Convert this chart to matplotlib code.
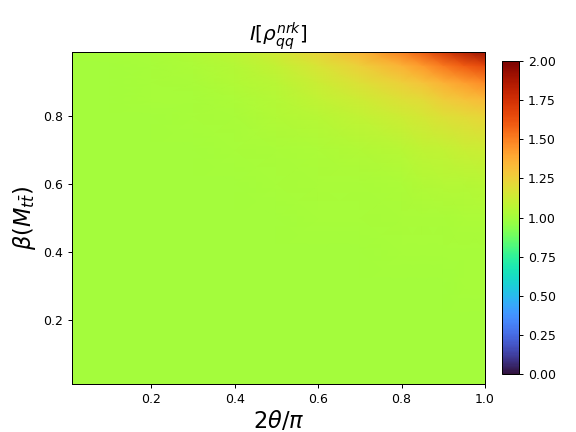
import numpy as np
import matplotlib
matplotlib.use('Agg')
import matplotlib.pyplot as plt

# grid positions (2theta/pi and beta) and values
theta_pts = [0.0, 0.1, 0.2, 0.3, 0.4, 0.5, 0.6, 0.7, 0.8, 0.85, 0.9, 0.95, 1.0]
beta_pts = [0.0, 0.1, 0.2, 0.3, 0.4, 0.5, 0.6, 0.7, 0.8, 0.85, 0.9, 0.95, 1.0]

values = [
    [1.00, 1.00, 1.00, 1.00, 1.00, 1.00, 1.00, 1.00, 1.00, 1.00, 1.00, 1.00, 1.00],
    [1.00, 1.00, 1.00, 1.00, 1.00, 1.00, 1.00, 1.00, 1.00, 1.00, 1.00, 1.00, 1.00],
    [1.00, 1.00, 1.00, 1.00, 1.00, 1.00, 1.00, 1.00, 1.00, 1.00, 1.00, 1.00, 1.00],
    [1.00, 1.00, 1.00, 1.00, 1.00, 1.00, 1.00, 1.00, 1.00, 1.00, 1.00, 1.01, 1.01],
    [1.00, 1.00, 1.00, 1.00, 1.00, 1.00, 1.00, 1.00, 1.01, 1.01, 1.01, 1.01, 1.01],
    [1.00, 1.00, 1.00, 1.00, 1.00, 1.00, 1.01, 1.01, 1.02, 1.02, 1.02, 1.03, 1.03],
    [1.00, 1.00, 1.00, 1.00, 1.00, 1.01, 1.02, 1.02, 1.03, 1.04, 1.05, 1.05, 1.06],
    [1.00, 1.00, 1.00, 1.00, 1.01, 1.02, 1.03, 1.04, 1.06, 1.08, 1.09, 1.11, 1.12],
    [1.00, 1.00, 1.00, 1.01, 1.02, 1.04, 1.06, 1.09, 1.13, 1.15, 1.18, 1.21, 1.23],
    [1.00, 1.00, 1.01, 1.01, 1.03, 1.05, 1.09, 1.13, 1.18, 1.21, 1.26, 1.30, 1.33],
    [1.00, 1.00, 1.01, 1.02, 1.04, 1.07, 1.12, 1.18, 1.25, 1.30, 1.36, 1.42, 1.47],
    [1.00, 1.00, 1.01, 1.03, 1.05, 1.10, 1.17, 1.25, 1.36, 1.43, 1.52, 1.60, 1.66],
    [1.00, 1.01, 1.02, 1.04, 1.08, 1.15, 1.25, 1.37, 1.53, 1.63, 1.76, 1.88, 1.97],
]

fig = plt.figure(figsize=(6.4, 4.8), dpi=90)
ax = fig.add_axes([0.125, 0.11, 0.717, 0.77])
cax = fig.add_axes([0.8715, 0.134, 0.0295, 0.725])

mesh = ax.pcolormesh(theta_pts, beta_pts, np.array(values), cmap='turbo',
                     vmin=0, vmax=2, shading='gouraud')
ax.set_xlim(0.01, 1.0)
ax.set_ylim(0.01, 0.99)
ax.set_title(r'$I[\rho_{qq}^{nrk}]$', fontsize=16)
ax.set_xlabel(r'$2\theta/\pi$', fontsize=18, labelpad=2)
ax.set_ylabel(r'$\beta(M_{t\bar{t}})$', fontsize=18)
fig.colorbar(mesh, cax=cax)

plt.savefig('out.png', dpi=90)
plt.close()
